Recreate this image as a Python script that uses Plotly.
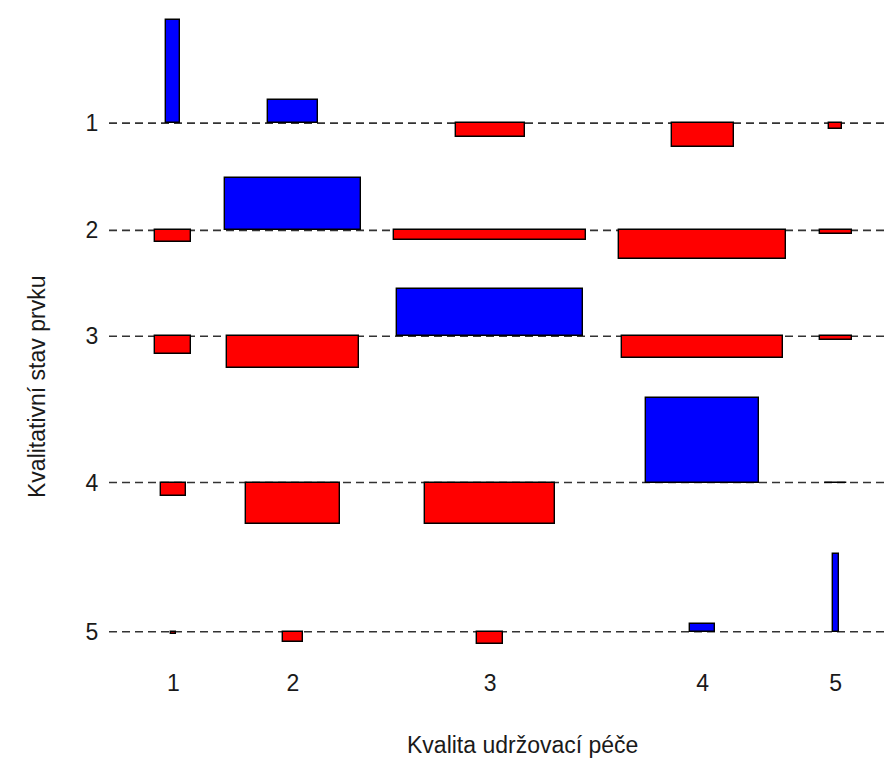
import numpy as np
import plotly.graph_objects as go

# Categories
row_labels = ["1", "2", "3", "4", "5"]   # Kvalitativní stav prvku
col_labels = ["1", "2", "3", "4", "5"]   # Kvalita udržovací péče

# sqrt(expected counts) per cell (rows = stav prvku 1..5, columns = péče 1..5), estimated
sqrt_exp_r1 = [0.46, 1.69, 2.30, 2.07, 0.42]
sqrt_exp_r2 = [1.21, 4.52, 6.37, 5.55, 1.08]
sqrt_exp_r3 = [1.21, 4.43, 6.19, 5.38, 1.07]
sqrt_exp_r4 = [0.84, 3.11, 4.33, 3.77, 0.74]
sqrt_exp_r5 = [0.18, 0.64, 0.88, 0.81, 0.19]

# Pearson residuals per cell, estimated
resid_r1 = [8.58, 1.95, -1.19, -2.03, -0.48]
resid_r2 = [-1.00, 4.39, -0.83, -2.39, -0.29]
resid_r3 = [-1.44, -2.64, 3.92, -1.81, -0.28]
resid_r4 = [-1.11, -3.48, -3.48, 7.03, -0.04]
resid_r5 = [-0.21, -0.83, -1.06, 0.67, 6.44]

E = np.array([sqrt_exp_r1, sqrt_exp_r2, sqrt_exp_r3, sqrt_exp_r4, sqrt_exp_r5])
D = np.array([resid_r1, resid_r2, resid_r3, resid_r4, resid_r5])

# assocplot-style layout
space = 0.3
x_w = E.max(axis=0)
x_delta = space * x_w.mean()
x_r = np.cumsum(x_w + x_delta)
x_m = (np.concatenate([[0], x_r[:-1]]) + x_r) / 2

y_h = D.max(axis=1) - D.min(axis=1)
y_delta = space * y_h.mean()
order = np.arange(len(row_labels))[::-1]          # bottom row first
y_u = np.cumsum(y_h[order] + y_delta)
y_m_sorted = y_u - np.maximum(D, 0).max(axis=1)[order] - y_delta / 2
y_m = np.empty(len(row_labels))
y_m[order] = y_m_sorted

xs, bases, ys, ws, cols = [], [], [], [], []
for i in range(len(row_labels)):
    for j in range(len(col_labels)):
        xs.append(x_m[j])
        bases.append(y_m[i])
        ys.append(D[i, j])
        ws.append(E[i, j])
        cols.append("#0000FF" if D[i, j] >= 0 else "#FF0000")

# page geometry (page body has an 8px margin)
W, H = 885, 750
ML, MR, MT, MB = 101, 0, 0, 91
PW, PH = W - ML - MR, H - MT - MB
PX_X, PX_Y = 30.0, 12.0        # pixels per data unit
X0_PX, Y0_PX = 130.3, 651.6    # pixel of data origin (figure coords)

fig = go.Figure()
fig.add_trace(go.Bar(
    x=xs, y=ys, base=bases, width=ws,
    marker=dict(color=cols, line=dict(color="#000000", width=1.4)),
    hoverinfo="skip", showlegend=False,
))

for yb in y_m:
    fig.add_shape(type="line", xref="paper", yref="y", x0=0, x1=1, y0=yb, y1=yb,
                  line=dict(color="#333333", width=1.7, dash="8px,5px"), layer="below")

font = dict(family="Liberation Sans, Arial, sans-serif", size=23, color="#1a1a1a")

fig.update_layout(
    width=W, height=H,
    margin=dict(l=ML, r=MR, t=MT, b=MB, pad=0),
    paper_bgcolor="white", plot_bgcolor="white",
    barmode="overlay", bargap=0,
    font=font,
    xaxis=dict(range=[(ML - X0_PX) / PX_X, (ML + PW - X0_PX) / PX_X],
               tickvals=list(x_m), ticktext=col_labels, showgrid=False,
               zeroline=False, showline=False, ticks="", ticklen=0,
               tickfont=font, fixedrange=True),
    yaxis=dict(range=[(Y0_PX - (MT + PH)) / PX_Y, (Y0_PX - MT) / PX_Y],
               tickvals=list(y_m), ticktext=row_labels, showgrid=False,
               zeroline=False, showline=False, ticks="outside", ticklen=5,
               tickcolor="rgba(0,0,0,0)", tickfont=font, fixedrange=True),
    annotations=[
        dict(text="Kvalita udržovací péče", xref="paper", yref="paper",
             x=(514 - ML) / PW, y=1 - (737 - MT) / PH, showarrow=False,
             xanchor="center", yanchor="middle", font=font),
        dict(text="Kvalitativní stav prvku", xref="paper", yref="paper",
             x=(29 - ML) / PW, y=1 - (379 - MT) / PH, showarrow=False,
             textangle=-90, xanchor="center", yanchor="middle", font=font),
    ],
)

fig.write_html("out.html")
